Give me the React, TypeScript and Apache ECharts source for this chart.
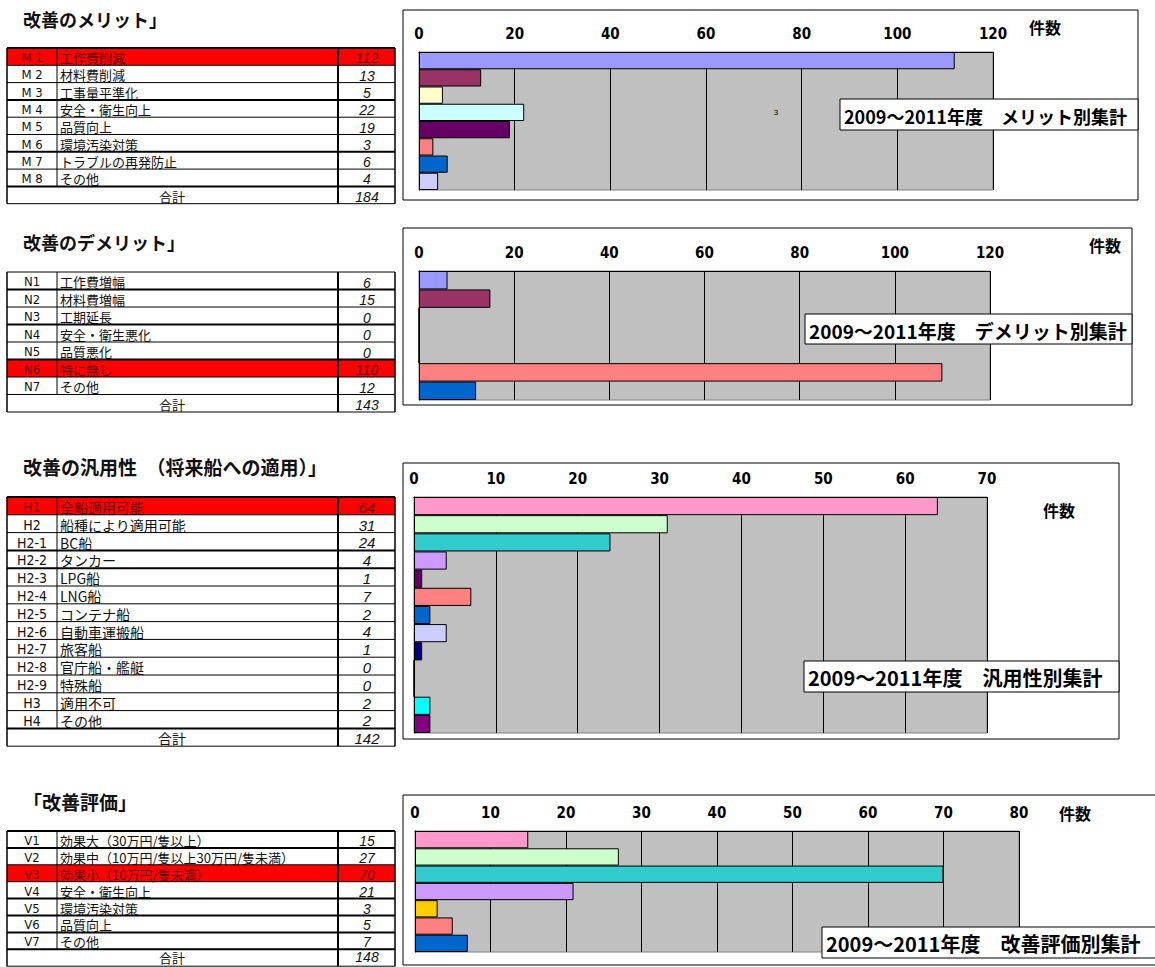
import React, { useEffect, useRef } from "react";
import * as echarts from "echarts";

// ---------- data ----------
const meritTitle = "改善のメリット」";
const meritCodes = ["M 1", "M 2", "M 3", "M 4", "M 5", "M 6", "M 7", "M 8"];
const meritNames = ["工作費削減", "材料費削減", "工事量平準化", "安全・衛生向上", "品質向上", "環境汚染対策", "トラブルの再発防止", "その他"];
const meritValues = [112, 13, 5, 22, 19, 3, 6, 4];
const meritColors = ["#9999FF", "#993366", "#FFFFCC", "#CCFFFF", "#660066", "#FF8080", "#0066CC", "#CCCCFF"];
const meritTicks = { max: 120, interval: 20 };
const meritLabel = "2009～2011年度　メリット別集計";

const demeritTitle = "改善のデメリット」";
const demeritCodes = ["N1", "N2", "N3", "N4", "N5", "N6", "N7"];
const demeritNames = ["工作費増幅", "材料費増幅", "工期延長", "安全・衛生悪化", "品質悪化", "特に無し", "その他"];
const demeritValues = [6, 15, 0, 0, 0, 110, 12];
const demeritColors = ["#9999FF", "#993366", "#FFFFCC", "#CCFFFF", "#660066", "#FF8080", "#0066CC"];
const demeritTicks = { max: 120, interval: 20 };
const demeritLabel = "2009～2011年度　デメリット別集計";

const genTitle = "改善の汎用性　（将来船への適用）」";
const genCodes = ["H1", "H2", "H2-1", "H2-2", "H2-3", "H2-4", "H2-5", "H2-6", "H2-7", "H2-8", "H2-9", "H3", "H4"];
const genNames = ["全船適用可能", "船種により適用可能", "BC船", "タンカー", "LPG船", "LNG船", "コンテナ船", "自動車運搬船", "旅客船", "官庁船・艦艇", "特殊船", "適用不可", "その他"];
const genValues = [64, 31, 24, 4, 1, 7, 2, 4, 1, 0, 0, 2, 2];
const genColors = ["#FF99CC", "#CCFFCC", "#33CCCC", "#CC99FF", "#660066", "#FF8080", "#0066CC", "#CCCCFF", "#000080", "#FF00FF", "#FFFF00", "#00FFFF", "#800080"];
const genTicks = { max: 70, interval: 10 };
const genLabel = "2009～2011年度　汎用性別集計";

const evalTitle = "「改善評価」";
const evalCodes = ["V1", "V2", "V3", "V4", "V5", "V6", "V7"];
const evalNames = ["効果大（30万円/隻以上）", "効果中（10万円/隻以上30万円/隻未満）", "効果小（10万円/隻未満）", "安全・衛生向上", "環境汚染対策", "品質向上", "その他"];
const evalValues = [15, 27, 70, 21, 3, 5, 7];
const evalColors = ["#FF99CC", "#CCFFCC", "#33CCCC", "#CC99FF", "#FFCC00", "#FF8080", "#0066CC"];
const evalTicks = { max: 80, interval: 10 };
const evalLabel = "2009～2011年度　改善評価別集計";

const totalLabel = "合計";
const unitLabel = "件数";

// ---------- layout ----------
const CJK = "'Noto Sans CJK JP', sans-serif";
const NARROW = "'Liberation Sans Narrow', 'DejaVu Sans Condensed', 'Liberation Sans', sans-serif";

const panels = [
  {
    title: meritTitle, codes: meritCodes, names: meritNames, values: meritValues, colors: meritColors, ticks: meritTicks, label: meritLabel,
    titleY: 19, titleSize: 18, tableTop: 48, rowH: 17.3, fs: 13, hi: 0, thick: [0, 3, 6, 8],
    grid: { left: 419, top: 52, width: 574, height: 138 },
    box: { x: 403, y: 10, w: 735, h: 190 },
    lbox: { x: 840, y: 99, w: 298, h: 31, fs: 18 },
    unit: { x: 1045, y: 27 },
  },
  {
    title: demeritTitle, codes: demeritCodes, names: demeritNames, values: demeritValues, colors: demeritColors, ticks: demeritTicks, label: demeritLabel,
    titleY: 242, titleSize: 18, tableTop: 272, rowH: 17.5, fs: 13, hi: 5, thick: [1, 3, 5],
    grid: { left: 419, top: 271, width: 571, height: 129 },
    box: { x: 403, y: 228, w: 729, h: 177 },
    lbox: { x: 805, y: 314, w: 327, h: 30, fs: 19 },
    unit: { x: 1105, y: 245 },
  },
  {
    title: genTitle, codes: genCodes, names: genNames, values: genValues, colors: genColors, ticks: genTicks, label: genLabel,
    titleY: 466, titleSize: 19, tableTop: 497, rowH: 17.8, fs: 14, hi: 0, thick: [0, 3, 4, 13],
    grid: { left: 414, top: 497, width: 573, height: 236 },
    box: { x: 403, y: 463, w: 716, h: 276 },
    lbox: { x: 804, y: 661, w: 315, h: 31, fs: 20 },
    unit: { x: 1059, y: 510 },
  },
  {
    title: evalTitle, codes: evalCodes, names: evalNames, values: evalValues, colors: evalColors, ticks: evalTicks, label: evalLabel,
    titleY: 801, titleSize: 19, tableTop: 831, rowH: 16.9, fs: 13, hi: 2, thick: [0, 1, 4, 5, 6, 7],
    grid: { left: 415, top: 831, width: 604, height: 121 },
    box: { x: 403, y: 795, w: 770, h: 170 },
    lbox: { x: 822, y: 927, w: 360, h: 31, fs: 20 },
    unit: { x: 1075, y: 813 },
  },
];

const X0 = 7, X1 = 57, X2 = 338, X3 = 395;

function tableElements(p: any): any[] {
  const els: any[] = [];
  const n = p.codes.length;
  const top = p.tableTop, rh = p.rowH, fs = p.fs;
  els.push({
    type: "text", x: 23, y: p.titleY, z: 5,
    style: { text: p.title, fill: "#111", fontFamily: CJK, fontWeight: "bold", fontSize: p.titleSize, lineHeight: p.titleSize, align: "left", verticalAlign: "middle" },
  });
  for (let i = 0; i <= n; i++) {
    const y = top + i * rh;
    const hi = i === p.hi;
    els.push({ type: "rect", z: 1, shape: { x: X0, y, width: X3 - X0, height: rh }, style: { fill: hi ? "#FF0000" : "#FFFFFF" } });
    const tc = hi ? "#660000" : "#111";
    const vy = Math.min(y + rh, 964);
    const my = Math.min(y + rh / 2 + 1, 957);
    if (i < n) {
      els.push({ type: "text", z: 2, x: (X0 + X1) / 2, y: my, style: { text: p.codes[i], fill: tc, fontFamily: NARROW, fontSize: fs, lineHeight: fs, align: "center", verticalAlign: "middle" } });
      els.push({ type: "text", z: 2, x: X1 + 3, y: my, style: { text: p.names[i], fill: tc, fontFamily: CJK, fontSize: fs, lineHeight: fs, align: "left", verticalAlign: "middle" } });
      els.push({ type: "text", z: 2, x: 367, y: vy, style: { text: String(p.values[i]), fill: tc, fontFamily: "'Liberation Sans', sans-serif", fontStyle: "italic", fontSize: fs + 1, lineHeight: fs + 1, align: "center", verticalAlign: "bottom" } });
    } else {
      const total = p.values.reduce((a: number, b: number) => a + b, 0);
      els.push({ type: "text", z: 2, x: 172, y: my, style: { text: totalLabel, fill: "#111", fontFamily: CJK, fontSize: fs, lineHeight: fs, align: "center", verticalAlign: "middle" } });
      els.push({ type: "text", z: 2, x: 367, y: vy, style: { text: String(total), fill: "#111", fontFamily: "'Liberation Sans', sans-serif", fontStyle: "italic", fontSize: fs + 1, lineHeight: fs + 1, align: "center", verticalAlign: "bottom" } });
    }
  }
  for (let i = 0; i <= n + 1; i++) {
    const y = top + i * rh;
    els.push({ type: "line", z: 3, shape: { x1: X0, y1: y, x2: X3, y2: y }, style: { stroke: "#000", lineWidth: p.thick.includes(i) ? 2 : 1 } });
  }
  const bottom = top + (n + 1) * rh;
  els.push({ type: "line", z: 3, shape: { x1: X0, y1: top, x2: X0, y2: bottom }, style: { stroke: "#000", lineWidth: 1.5 } });
  els.push({ type: "line", z: 3, shape: { x1: X1, y1: top, x2: X1, y2: top + n * rh }, style: { stroke: "#000", lineWidth: 1 } });
  els.push({ type: "line", z: 3, shape: { x1: X2, y1: top, x2: X2, y2: bottom }, style: { stroke: "#000", lineWidth: 2 } });
  els.push({ type: "line", z: 3, shape: { x1: X3, y1: top, x2: X3, y2: bottom }, style: { stroke: "#000", lineWidth: 1.5 } });
  return els;
}

function chartDecor(p: any): any[] {
  return [
    { type: "rect", z: 0, shape: { x: p.box.x, y: p.box.y, width: p.box.w, height: p.box.h }, style: { fill: "none", stroke: "#000", lineWidth: 1 } },
    { type: "rect", z: 100, shape: { x: p.lbox.x, y: p.lbox.y, width: p.lbox.w, height: p.lbox.h }, style: { fill: "#FFFFFF", stroke: "#000", lineWidth: 1 } },
    { type: "text", z: 101, x: p.lbox.x + 4, y: p.lbox.y + p.lbox.h / 2 + 1, style: { text: p.label, fill: "#000", fontFamily: CJK, fontWeight: "bold", fontSize: p.lbox.fs, lineHeight: p.lbox.fs, align: "left", verticalAlign: "middle" } },
    { type: "text", z: 101, x: p.unit.x, y: p.unit.y, style: { text: unitLabel, fill: "#000", fontFamily: CJK, fontWeight: "bold", fontSize: 16, lineHeight: 16, align: "center", verticalAlign: "middle" } },
  ];
}

export default function App() {
  const ref = useRef<HTMLDivElement>(null);
  useEffect(() => {
    if (!ref.current) return;
    const chart = echarts.init(ref.current, undefined, { renderer: "svg" });
    const elements: any[] = [];
    panels.forEach((p) => {
      elements.push(...tableElements(p));
      elements.push(...chartDecor(p));
    });
    elements.push({ type: "text", z: 50, x: 776, y: 112, style: { text: "3", fill: "#000", fontSize: 8, fontFamily: "'Liberation Sans', sans-serif", align: "center", verticalAlign: "middle" } });

    const option: any = {
      animation: false,
      backgroundColor: "#FFFFFF",
      grid: panels.map((p) => ({ ...p.grid, show: true, backgroundColor: "#C0C0C0", borderColor: "#808080", borderWidth: 1 })),
      xAxis: panels.map((p, i) => ({
        type: "value",
        gridIndex: i,
        position: "top",
        min: 0,
        max: p.ticks.max,
        interval: p.ticks.interval,
        axisLine: { show: true, lineStyle: { color: "#000", width: 1 } },
        axisTick: { show: true, inside: true, length: 4, lineStyle: { color: "#000" } },
        axisLabel: { show: true, margin: 11, color: "#000", fontWeight: "bold", fontSize: 15, fontFamily: NARROW },
        splitLine: { show: true, lineStyle: { color: "#000", width: 1 } },
      })),
      yAxis: panels.map((p, i) => ({
        type: "category",
        gridIndex: i,
        inverse: true,
        data: p.codes,
        axisLine: { show: true, lineStyle: { color: "#000", width: 1 } },
        axisTick: { show: false },
        axisLabel: { show: false },
        splitLine: { show: false },
      })),
      series: panels.map((p, i) => ({
        type: "bar",
        xAxisIndex: i,
        yAxisIndex: i,
        barCategoryGap: "0%",
        data: p.values.map((v: number, j: number) => ({ value: v, itemStyle: { color: p.colors[j] } })),
        itemStyle: { borderColor: "#000", borderWidth: 1 },
        emphasis: { disabled: true },
      })),
      graphic: { elements },
    };
    chart.setOption(option);
    return () => chart.dispose();
  }, []);
  return <div ref={ref} style={{ position: "absolute", left: 0, top: 0, width: 1155, height: 967 }} />;
}
